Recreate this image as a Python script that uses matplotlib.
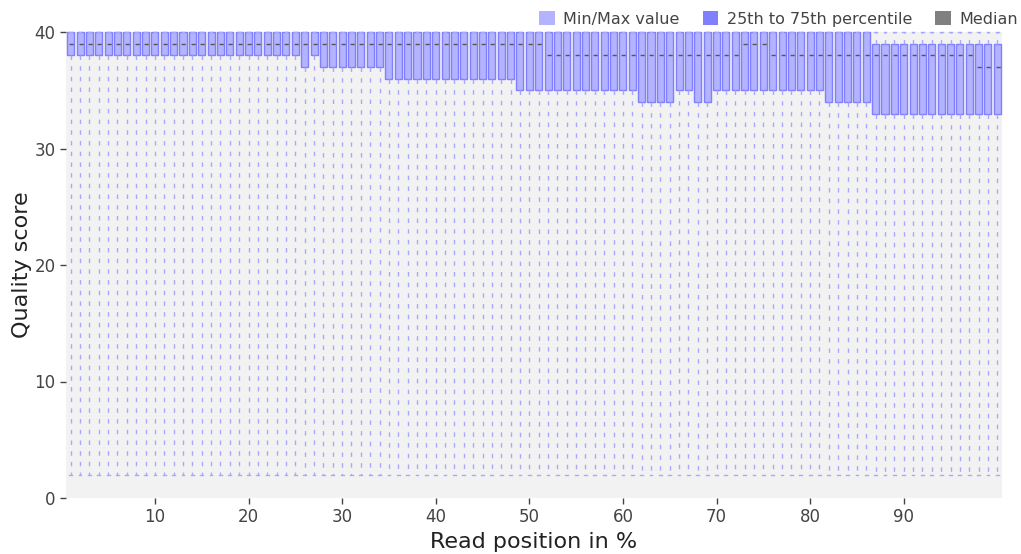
import matplotlib
matplotlib.use("Agg")
import matplotlib.pyplot as plt
from matplotlib.patches import Patch

# read position (%) 1..100
positions = list(range(1, 101))

# 75th percentile (box top)
q75 = [40] * 86 + [39] * 14

# 25th percentile (box bottom)
q25 = ([38] * 25 + [37] + [38] + [37] * 7 + [36] * 14 + [35] * 13
       + [34] * 4 + [35] * 2 + [34] * 2 + [35] * 12 + [34] * 5 + [33] * 14)

# median
median = [39] * 51 + [38] * 21 + [39] * 3 + [38] * 22 + [37] * 3

# whisker ends
q_min = [2] * 100
q_max = [40] * 100

legend_labels = ["Min/Max value", "25th to 75th percentile", "Median"]

C_WHISK = "#a8a8ff"
C_BOX = "#8080ff"
C_FILL = "#b3b3ff"
C_MED = "#555555"

stats = []
for p, lo, hi, a, b, m in zip(positions, q_min, q_max, q25, q75, median):
    stats.append({"whislo": lo, "q1": a, "med": m, "q3": b, "whishi": hi, "fliers": []})

fig = plt.figure(figsize=(10.21, 5.54), dpi=100)
ax = fig.add_axes([66 / 1021, 1 - 498 / 554, 936 / 1021, 466 / 554])
ax.set_facecolor("#f2f2f2")

parts = ax.bxp(stats, positions=positions, widths=0.75, patch_artist=True,
               showfliers=False, capwidths=0.3,
               boxprops=dict(facecolor=C_FILL, edgecolor=C_BOX, linewidth=1.0),
               whiskerprops=dict(color=C_WHISK, linewidth=1.0, linestyle=(0, (3.2, 4.5))),
               capprops=dict(color=C_WHISK, linewidth=1.0),
               medianprops=dict(color=C_MED, linewidth=1.0, linestyle=(11.5, (3, 10))))
# let the box tops at 40 show fully
for key in ("boxes", "whiskers", "caps", "medians"):
    for art in parts[key]:
        art.set_clip_on(False)

ax.set_xlim(0.5, 100.5)
ax.set_ylim(0, 40)
ax.set_xticks(range(10, 100, 10))
ax.set_xticklabels([str(v) for v in range(10, 100, 10)])
ax.set_yticks(range(0, 41, 10))
for s in ax.spines.values():
    s.set_visible(False)
ax.tick_params(axis="both", labelsize=12, colors="#444444", length=4, width=1)
ax.set_xlabel("Read position in %", fontsize=16, color="#222222", labelpad=4)
ax.set_ylabel("Quality score", fontsize=16, color="#222222", labelpad=1.5)

handles = [Patch(facecolor=C_FILL, edgecolor="none"),
           Patch(facecolor=C_BOX, edgecolor="none"),
           Patch(facecolor="#808080", edgecolor="none")]
fig.legend(handles, legend_labels, loc="upper right", bbox_to_anchor=(1.008, 1.0),
           ncol=3, frameon=False, fontsize=11.5, labelcolor="#444444",
           handlelength=0.95, handleheight=0.95, handletextpad=0.55,
           columnspacing=1.45, borderaxespad=0.3)

fig.savefig("out.png", dpi=100)
